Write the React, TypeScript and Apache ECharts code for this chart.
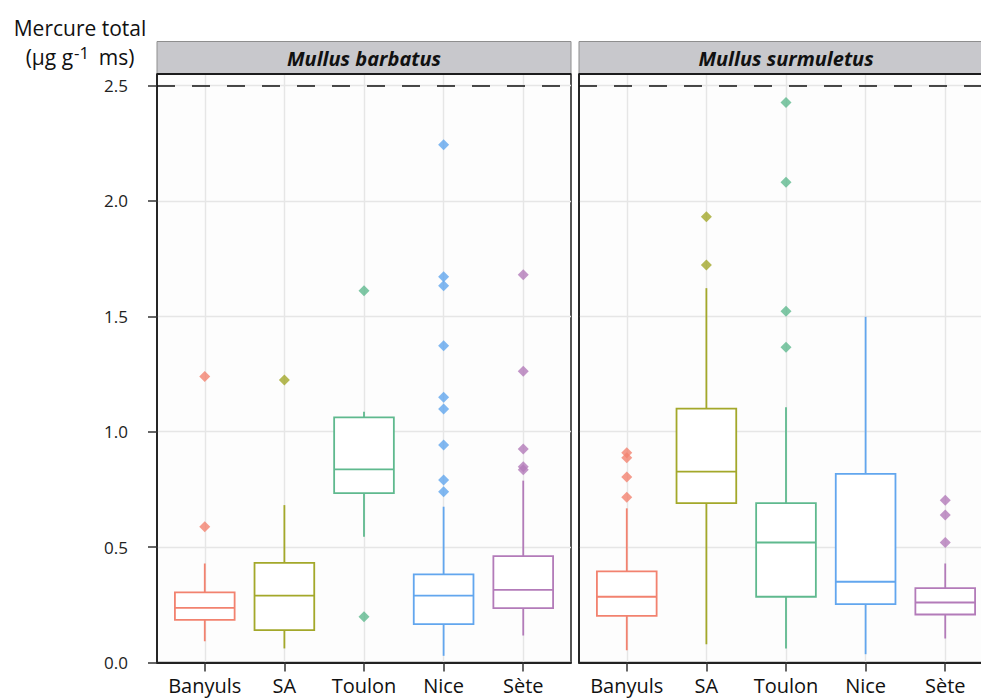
import React, { useEffect, useRef } from 'react';
import * as echarts from 'echarts';

const sites = ['Banyuls', 'SA', 'Toulon', 'Nice', 'Sète'];
const siteColors = ['#F2826F', '#A3A82A', '#5FB98E', '#62A6EE', '#B37BB9'];
const species = ['Mullus barbatus', 'Mullus surmuletus'];
const yTicks = [0, 0.5, 1, 1.5, 2, 2.5];
const threshold = 2.5;

// [lower whisker, Q1, median, Q3, upper whisker]
const barbatusStats = [
  [0.092, 0.185, 0.237, 0.304, 0.429],
  [0.061, 0.14, 0.29, 0.432, 0.682],
  [0.545, 0.734, 0.837, 1.062, 1.087],
  [0.029, 0.166, 0.29, 0.382, 0.675],
  [0.117, 0.236, 0.315, 0.461, 0.788],
];
const barbatusOutliers = [
  [0.588, 1.239],
  [1.224],
  [0.198, 1.611],
  [0.74, 0.791, 0.942, 1.098, 1.149, 1.372, 1.633, 1.672, 2.243],
  [0.835, 0.848, 0.925, 1.262, 1.68],
];
const surmuletusStats = [
  [0.053, 0.202, 0.285, 0.395, 0.668],
  [0.079, 0.691, 0.827, 1.1, 1.622],
  [0.061, 0.285, 0.52, 0.691, 1.106],
  [0.036, 0.253, 0.35, 0.817, 1.498],
  [0.104, 0.208, 0.26, 0.322, 0.429],
];
const surmuletusOutliers = [
  [0.716, 0.804, 0.887, 0.909],
  [1.722, 1.931],
  [1.366, 1.522, 2.081, 2.427],
  [],
  [0.52, 0.639, 0.703],
];

const FONT = '"Open Sans", "Noto Sans", sans-serif';
const PANEL_LEFT = [157, 579];
const PANEL_W = 414;
const PANEL_TOP = 74;
const PANEL_H = 588.5;
const STRIP_TOP = 41.5;

export default function App() {
  const ref = useRef<HTMLDivElement>(null);
  useEffect(() => {
    const chart = echarts.init(ref.current!, null, { renderer: 'svg' });
    const statsByPanel = [barbatusStats, surmuletusStats];
    const outByPanel = [barbatusOutliers, surmuletusOutliers];

    const grids = PANEL_LEFT.map((l) => ({
      left: l,
      top: PANEL_TOP,
      width: PANEL_W,
      height: PANEL_H,
      show: true,
      backgroundColor: '#fdfdfd',
      borderColor: '#1c1c1c',
      borderWidth: 1.5,
      containLabel: false,
      outerBoundsMode: 'none',
    }));

    const xAxes = [0, 1].map((i) => ({
      type: 'value',
      gridIndex: i,
      min: 0.4,
      max: 5.6,
      axisLine: { show: true, onZero: false, lineStyle: { color: '#222', width: 1.8 } },
      axisTick: {
        show: true,
        length: 9,
        customValues: [1, 2, 3, 4, 5],
        lineStyle: { color: '#333', width: 1.5 },
      },
      axisLabel: {
        customValues: [1, 2, 3, 4, 5],
        formatter: (v: number) => sites[Math.round(v) - 1] ?? '',
        fontSize: 20,
        color: '#111',
        margin: 13,
        fontFamily: FONT,
      },
      splitLine: { show: true, lineStyle: { color: '#e6e6e6', width: 1.4 } },
    }));

    const yAxes = [0, 1].map((i) => ({
      type: 'value',
      gridIndex: i,
      min: 0,
      max: 2.55,
      interval: 0.5,
      axisLine: { show: true, onZero: false, lineStyle: { color: '#222', width: 1.8 } },
      axisTick: {
        show: i === 0,
        length: 9,
        customValues: yTicks,
        lineStyle: { color: '#333', width: 1.5 },
      },
      axisLabel: {
        show: i === 0,
        customValues: yTicks,
        formatter: (v: number) => v.toFixed(1),
        fontSize: 17,
        color: '#222',
        margin: 29,
        fontFamily: FONT,
      },
      splitLine: { show: true, lineStyle: { color: '#e6e6e6', width: 1.4 } },
    }));

    const series: any[] = [];
    [0, 1].forEach((p) => {
      series.push({
        type: 'custom',
        xAxisIndex: p,
        yAxisIndex: p,
        z: 2,
        encode: { x: 0, y: [1, 2, 3, 4, 5] },
        data: statsByPanel[p].map((s, i) => [i + 1, ...s]),
        renderItem: (params: any, api: any) => {
          const x = api.value(0);
          const lo = api.coord([x, api.value(1)]);
          const q1 = api.coord([x, api.value(2)]);
          const md = api.coord([x, api.value(3)]);
          const q3 = api.coord([x, api.value(4)]);
          const hi = api.coord([x, api.value(5)]);
          const half = api.size([1, 0])[0] * 0.375;
          const color = siteColors[Math.round(x) - 1];
          const lw = 1.8;
          const cx = lo[0];
          return {
            type: 'group',
            children: [
              { type: 'line', shape: { x1: cx, y1: hi[1], x2: cx, y2: q3[1] }, style: { stroke: color, lineWidth: lw } },
              { type: 'line', shape: { x1: cx, y1: q1[1], x2: cx, y2: lo[1] }, style: { stroke: color, lineWidth: lw } },
              {
                type: 'rect',
                shape: { x: cx - half, y: q3[1], width: half * 2, height: q1[1] - q3[1] },
                style: { stroke: color, fill: '#ffffff', lineWidth: lw },
              },
              { type: 'line', shape: { x1: cx - half, y1: md[1], x2: cx + half, y2: md[1] }, style: { stroke: color, lineWidth: lw } },
            ],
          };
        },
        markLine: {
          silent: true,
          symbol: ['none', 'none'],
          label: { show: false },
          lineStyle: { color: '#111', type: [18, 17], width: 1.7 },
          data: [{ yAxis: threshold }],
        },
      });
      const pts: any[] = [];
      outByPanel[p].forEach((arr, i) => {
        arr.forEach((v) => pts.push({ value: [i + 1, v], itemStyle: { color: siteColors[i] } }));
      });
      series.push({
        type: 'scatter',
        xAxisIndex: p,
        yAxisIndex: p,
        z: 3,
        symbol: 'diamond',
        symbolSize: [11, 11],
        data: pts,
      });
    });

    const graphic: any[] = [];
    PANEL_LEFT.forEach((l, i) => {
      graphic.push({
        type: 'rect',
        shape: { x: l, y: STRIP_TOP, width: PANEL_W, height: PANEL_TOP - STRIP_TOP },
        style: { fill: '#c8c8cc', stroke: '#8e8e8e', lineWidth: 1 },
        z: 10,
      });
      graphic.push({
        type: 'line',
        shape: { x1: l, y1: PANEL_TOP, x2: l + PANEL_W, y2: PANEL_TOP },
        style: { stroke: '#1c1c1c', lineWidth: 1.8 },
        z: 11,
      });
      graphic.push({
        type: 'text',
        x: l + PANEL_W / 2,
        y: (STRIP_TOP + PANEL_TOP) / 2 + 1,
        z: 12,
        style: {
          text: species[i],
          align: 'center',
          verticalAlign: 'middle',
          fontSize: 20,
          fontWeight: 'bold',
          fontStyle: 'italic',
          fontFamily: FONT,
          fill: '#111',
        },
      });
    });
    graphic.push({
      type: 'text',
      x: 80,
      y: 28,
      z: 12,
      style: {
        text: 'Mercure total',
        align: 'center',
        verticalAlign: 'middle',
        fontSize: 21,
        fontFamily: FONT,
        fill: '#111',
      },
    });
    graphic.push({
      type: 'text',
      x: 80,
      y: 57,
      z: 12,
      style: {
        text: '{n|(μg g}{s|-1}{n| ms)}',
        align: 'center',
        verticalAlign: 'middle',
        rich: {
          n: { fontSize: 21, lineHeight: 26, fontFamily: FONT, fill: '#111' },
          s: { fontSize: 17, lineHeight: 17, verticalAlign: 'top', fontFamily: FONT, fill: '#111', padding: [0, 4, 0, 1] },
        },
      },
    });

    chart.setOption({
      animation: false,
      backgroundColor: '#ffffff',
      grid: grids,
      xAxis: xAxes,
      yAxis: yAxes,
      series,
      graphic,
    });
    return () => chart.dispose();
  }, []);
  return (
    <div
      ref={ref}
      style={{ position: 'fixed', left: 0, top: 0, width: 981, height: 698, background: '#fff' }}
    />
  );
}
